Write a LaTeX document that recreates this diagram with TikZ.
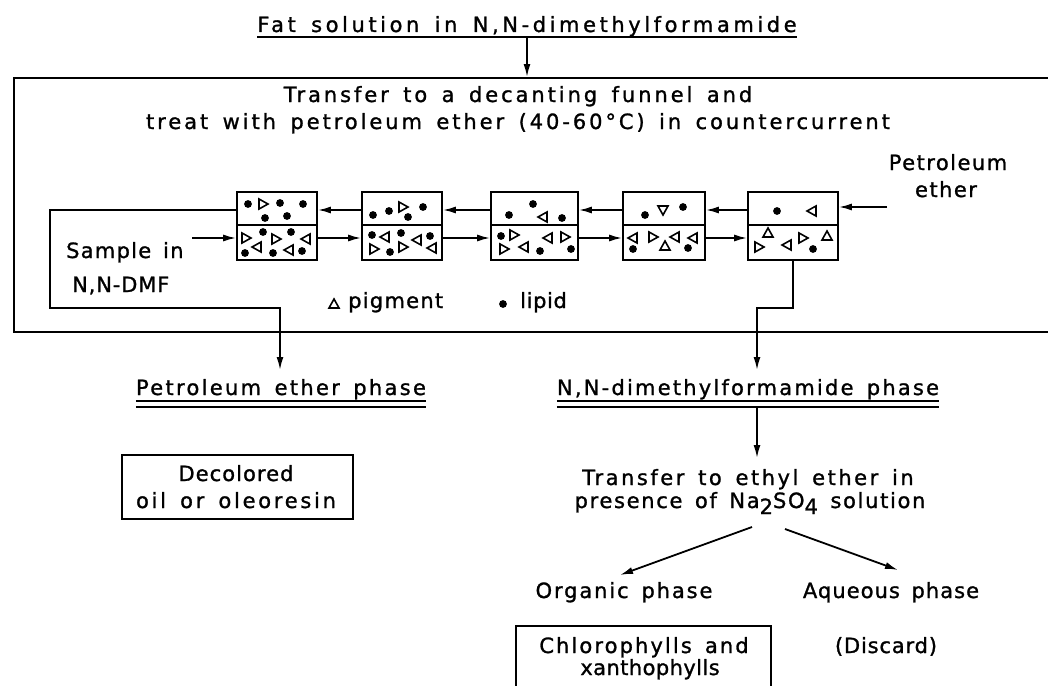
\documentclass[tikz,border=0pt]{standalone}
\usepackage{fontspec}
\setmainfont{DejaVu Sans}[WordSpace=1.5,FakeBold=1.2]
\usetikzlibrary{arrows.meta}
\newcommand\pd[2]{\fill (#1,#2) circle[radius=3.9pt];}
\newcommand\pR[2]{\draw[tri] (#1+5,#2) -- (#1-4,#2-5) -- (#1-4,#2+5) -- cycle;}
\newcommand\pL[2]{\draw[tri] (#1-5,#2) -- (#1+4,#2-5) -- (#1+4,#2+5) -- cycle;}
\newcommand\pU[2]{\draw[tri] (#1,#2-5) -- (#1-5,#2+4) -- (#1+5,#2+4) -- cycle;}
\newcommand\pD[2]{\draw[tri] (#1,#2+5) -- (#1-5,#2-4) -- (#1+5,#2-4) -- cycle;}
\begin{document}
\begin{tikzpicture}[x=1pt,y=-1pt,
  every node/.style={inner sep=0pt},
  txt/.style={anchor=base, font=\fontsize{21}{25}\selectfont\addfontfeatures{LetterSpace=#1}},
  txt/.default=10,
  ln/.style={line width=1.8pt},
  arr/.style={ln, -{Latex[length=13pt,width=7pt]}},
  cellbox/.style={draw, line width=1.7pt, inner sep=0pt},
  tri/.style={line width=1.6pt, line join=miter},
  uline/.style={line width=1.5pt}]
\fill[white] (0,0) rectangle (1048,685);
\useasboundingbox (0,0) rectangle (1048,685);

% title
\node[txt=17] (title) at (527,32) {Fat solution in N,N-dimethylformamide};
\draw[uline] ([yshift=-5pt]title.base west) -- ([yshift=-5pt]title.base east);

% big box
\node[draw, ln, minimum width=1100pt, minimum height=254pt, anchor=north west] (bigbox) at (13,77) {};
\draw[arr] ([yshift=-5pt]title.base) -- (title.base |- bigbox.north);
\node[txt=14] (t1) at (518,102) {Transfer to a decanting funnel and};
\node[txt=14] (t2) at (518,129) {treat with petroleum ether (40-60°C) in countercurrent};

% cells
\foreach \n/\cx/\w in {1/277/80, 2/402/80, 3/534.5/87, 4/664/82, 5/793/90}{
  \node[cellbox, minimum width=\w pt, minimum height=33pt] (u\n) at (\cx,208.5) {};
  \node[cellbox, minimum width=\w pt, minimum height=35pt] (l\n) at (\cx,242.5) {};
}
% counter-current arrows
\foreach \a/\b in {1/2, 2/3, 3/4, 4/5}{
  \draw[arr] (u\b.west |- 0,210) -- (u\a.east |- 0,210);
  \draw[arr] (l\a.east |- 0,238) -- (l\b.west |- 0,238);
}
\node[txt=7] (pe1) at (948,170) {Petroleum};
\node[txt=7] (pe2) at (946,197) {ether};
\coordinate (pin) at (887,207);
\draw[arr] (pin) -- (u5.east |- pin);
\node[txt=6, anchor=base west] (s1) at (66,258) {Sample in};
\node[txt=4, anchor=base west] (s2) at (72,292) {N,N-DMF};
\coordinate (sin) at (192,238);
\draw[arr] (sin) -- (l1.west |- sin);

% particles cell 1
\pd{248}{204}\pd{280}{203}\pd{303}{204}\pd{265}{218}\pd{287}{216}\pR{263}{204}
\pR{246}{238}\pd{263}{232}\pR{276}{239}\pd{291}{232}\pL{306}{239}
\pd{245}{253}\pL{257}{247}\pd{273}{253}\pL{289}{250}\pd{302}{251}
% cell 2
\pd{373}{215}\pd{389}{211}\pd{408}{217}\pd{423}{207}\pR{403}{207}
\pd{372}{235}\pL{385}{237}\pd{401}{233}\pL{417}{240}\pd{430}{236}
\pR{374}{249}\pd{390}{252}\pR{403}{247}\pL{432}{248}
% cell 3
\pd{509}{215}\pd{533}{204}\pL{543}{217}\pd{562}{218}
\pd{501}{236}\pR{514}{235}\pL{548}{238}\pR{565}{237}
\pR{504}{249}\pL{524}{247}\pd{540}{251}\pd{571}{249}
% cell 4
\pd{645}{215}\pD{663}{210}\pd{683}{207}
\pL{633}{238}\pR{653}{237}\pL{675}{237}\pL{693}{238}
\pd{633}{249}\pU{665}{246}\pd{688}{248}
% cell 5
\pd{777}{211}\pL{812}{211}
\pU{768}{233}\pR{759}{247}\pL{787}{245}\pR{803}{238}\pU{827}{236}\pd{813}{249}

% legend
\pU{334}{304}
\node[txt=6, anchor=base west] (pig) at (348,308) {pigment};
\pd{503}{304}
\node[txt=3, anchor=base west] (lip) at (520,308) {lipid};

% outlets
\node[txt=11] (pe) at (281,395) {Petroleum ether phase};
\draw[uline] ([yshift=-6pt]pe.base west) -- ([yshift=-6pt]pe.base east);
\draw[uline] ([yshift=-12pt]pe.base west) -- ([yshift=-12pt]pe.base east);
\coordinate (r1) at (50,308);
\coordinate (r2) at (280,308);
\coordinate (pein) at (280,370);
\draw[arr] (u1.west |- 0,210) -| (r1) -- (r2) -- (pein);

\node[txt=10.5] (dmf) at (748,395) {N,N-dimethylformamide phase};
\draw[uline] ([yshift=-6pt]dmf.base west) -- ([yshift=-6pt]dmf.base east);
\draw[uline] ([yshift=-12pt]dmf.base west) -- ([yshift=-12pt]dmf.base east);
\coordinate (d1) at (757,308);
\coordinate (dmfin) at (757,370);
\draw[arr] (l5.south) |- (d1) -- (dmfin);

% decolored
\node[draw, ln, minimum width=231pt, minimum height=64pt] (dec) at (237.5,487) {};
\node[txt=5] (dec1) at (236,481) {Decolored};
\node[txt=13] (dec2) at (236,508) {oil or oleoresin};

% transfer to ethyl ether
\coordinate (dmfout) at (757,407);
\coordinate (trin) at (757,458);
\draw[arr] (dmfout) -- (trin);
\node[txt=12] (tr1) at (748,485) {Transfer to ethyl ether in};
\node[txt=8] (tr2) at (750,508) {presence of Na\raisebox{-6pt}{2}SO\raisebox{-6pt}{4} solution};

\coordinate (sa) at (752,527);
\coordinate (sae) at (620,575);
\coordinate (sb) at (785,529);
\coordinate (sbe) at (898,570);
\draw[arr] (sa) -- (sae);
\draw[arr] (sb) -- (sbe);
\node[txt=9] (org) at (624,598) {Organic phase};
\node[txt=5] (aq) at (891,598) {Aqueous phase};

\node[draw, ln, minimum width=255pt, minimum height=90pt, anchor=north west] (chlbox) at (515,625) {};
\node[txt=10] (chl1) at (644,653) {Chlorophylls and};
\node[txt=2] (chl2) at (650,675) {xanthophylls};
\node[txt=4] (disc) at (886,653) {(Discard)};
\end{tikzpicture}
\end{document}
